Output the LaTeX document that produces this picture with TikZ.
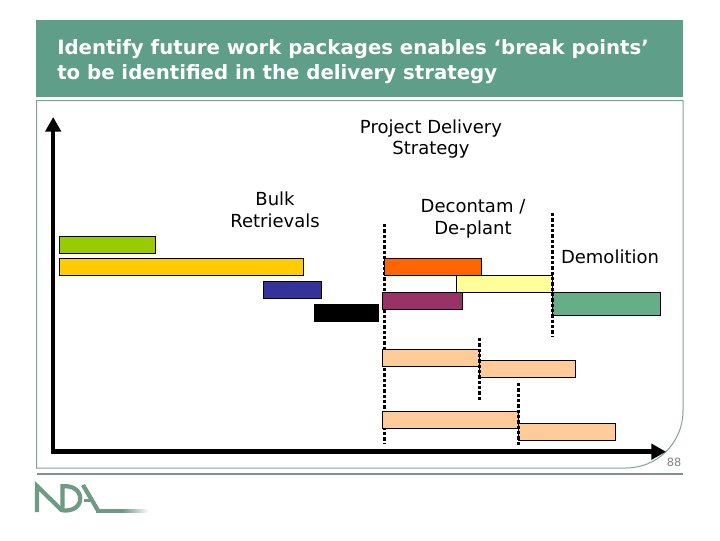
\documentclass[tikz,border=0pt]{standalone}
\usepackage{fontspec}
\setmainfont{DejaVu Sans}
\usetikzlibrary{arrows.meta}
\definecolor{band}{HTML}{5F9E88}
\definecolor{panelline}{HTML}{7FA398}
\definecolor{rulegray}{HTML}{858F8B}
\definecolor{logo}{HTML}{6F9A84}
\definecolor{cgreen}{HTML}{99CC00}
\definecolor{cyellow}{HTML}{FFCC00}
\definecolor{cblue}{HTML}{333399}
\definecolor{corange}{HTML}{FF6600}
\definecolor{clight}{HTML}{FFFF99}
\definecolor{cpurple}{HTML}{993366}
\definecolor{cgreentwo}{HTML}{66AE88}
\definecolor{cpeach}{HTML}{FFCC99}
\tikzset{
  bar/.style={draw=black,line width=0.75pt,anchor=north west,inner sep=0pt,minimum height=#1*0.75pt},
  lbl/.style={align=center,font=\fontsize{13.5}{16.3}\selectfont,text=black,inner sep=0pt},
  brk/.style={draw=black,line width=2.6pt,dash pattern=on 2.4pt off 1.6pt},
  axis/.style={draw=black,line width=3.4pt,-{Triangle[length=11pt,width=11.5pt]}},
}
\newcommand{\barnode}[6]{\node[bar=#5,fill=#6,minimum width=#4*0.75pt] (#1) at (#2-0.8,#3-0.8) {};}
\begin{document}
\begin{tikzpicture}[x=0.75pt,y=-0.75pt]
\useasboundingbox (0,0) rectangle (720,540);
\fill[white] (0,0) rectangle (720,540);
% panel
\draw[panelline,line width=0.75pt] (36.5,100.5) -- (683,100.5) -- (683,411) .. controls (683,442.5) and (657.5,468) .. (626,468) -- (36.5,468) -- cycle;
\fill[band] (36,20) rectangle (683,97);
\node[anchor=west,align=left,text=white,inner sep=0pt,font=\fontsize{14.8}{18.6}\selectfont\bfseries] (title) at (57,61.3) {Identify future work packages enables ‘break points’\\to be identified in the delivery strategy};
\draw[rulegray,line width=1.5pt] (37,473.5) -- (683,473.5);
% labels
\node[lbl] (project) at (431,139) {Project Delivery\\Strategy};
\node[lbl] (bulk) at (275,209.5) {Bulk\\Retrievals};
\node[lbl] (decontam) at (473,218.5) {Decontam /\\De-plant};
\node[lbl] (demo) at (610,257) {Demolition};
% breakpoints
\coordinate (b1t) at (384.5,224); \coordinate (b1b) at (384.5,443);
\coordinate (b2t) at (552.5,213); \coordinate (b2b) at (552.5,337);
\coordinate (b3t) at (479.5,338); \coordinate (b3b) at (479.5,401);
\coordinate (b4t) at (518.5,383); \coordinate (b4b) at (518.5,446);
\draw[brk] (b1t) -- (b1b);
% bars
\barnode{g1}{59.5}{236.5}{96}{17}{cgreen}
\barnode{y1}{59.5}{258.5}{244}{17}{cyellow}
\barnode{b1}{263.5}{281.5}{58}{17}{cblue}
\barnode{k1}{314.5}{304.5}{64}{17}{black}
\barnode{o1}{385}{258.5}{97}{17}{corange}
\barnode{ly}{456.5}{275.5}{96}{17}{clight}
\barnode{p1}{382.5}{292.5}{80}{17}{cpurple}
\barnode{g2}{552.5}{292.5}{108}{23}{cgreentwo}
\barnode{c1}{382.5}{349.5}{97}{17}{cpeach}
\barnode{c2}{479.5}{360.5}{96}{17}{cpeach}
\barnode{c3}{382.5}{411.5}{136}{17}{cpeach}
\barnode{c4}{518.5}{423.5}{97}{17}{cpeach}
\draw[brk] (b2t) -- (b2b);
\draw[brk] (b3t) -- (b3b);
\draw[brk] (b4t) -- (b4b);
% axes
\coordinate (origin) at (53.2,451.7);
\coordinate (ytip) at (53.2,117);
\coordinate (xtip) at (666,451.7);
\draw[axis] (53.2,453.9) -- (ytip);
\draw[axis] (origin) -- (xtip);
\node[text=gray,inner sep=0pt,font=\fontsize{8.5}{10}\selectfont] (page) at (674,462.5) {88};
% logo
\begin{scope}[draw=logo,line width=3.2pt]
\draw (37,512) -- (37,486) -- (62,510.5);
\draw (62.5,512) -- (62.5,486.3) .. controls (72,485.3) and (80.2,490) .. (80.2,498.5) .. controls (80.2,507) and (72,511.5) .. (62.5,510.3);
\draw (83,485) -- (98,510.5);
\draw[line width=2.4pt] (84,500.3) -- (94,500.3);
\end{scope}
\shade[left color=logo,right color=white,middle color=logo] (96,509) rectangle (149,512.5);
\end{tikzpicture}
\end{document}
